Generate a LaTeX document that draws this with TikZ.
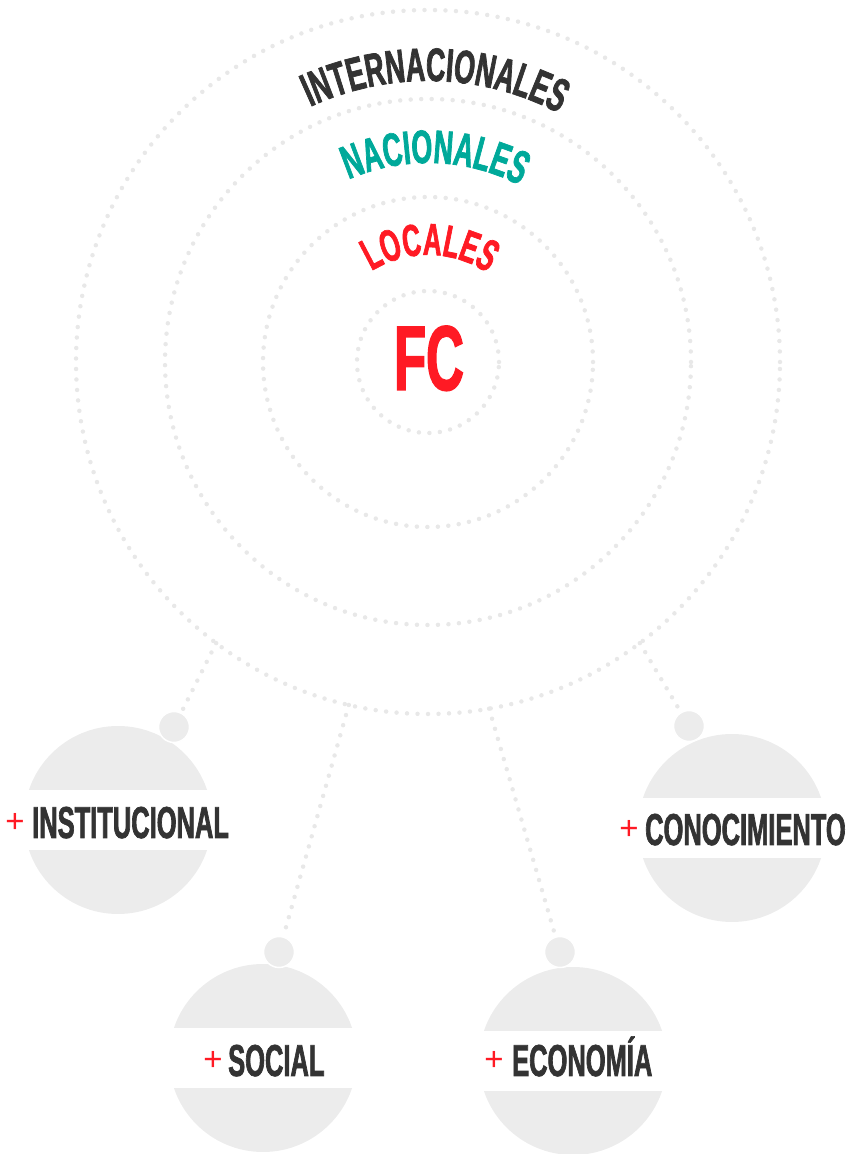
\documentclass[tikz,border=0pt]{standalone}
\usepackage{fontspec}
\usetikzlibrary{decorations.text}
\newfontfamily\bebas[FakeStretch=0.57,FakeBold=1.5,UprightFont={* Bold}]{Liberation Sans}
\newfontfamily\plusfont{Liberation Sans}
\definecolor{ink}{HTML}{333333}
\definecolor{dotgray}{HTML}{E8E8E8}
\definecolor{ballgray}{HTML}{ECECEC}
\definecolor{fcred}{HTML}{FF1A24}
\definecolor{teal}{HTML}{00A99A}
\tikzset{
  ring/.style={circle, draw=dotgray, line width=4.5pt, dash pattern=on 0pt off 10.5pt, line cap=round, inner sep=0pt, outer sep=0pt, minimum size=#1},
  link/.style={draw=dotgray, line width=4.5pt, dash pattern=on 0pt off 10.5pt, line cap=round, shorten >=4pt},
  ball/.style={circle, fill=ballgray, inner sep=0pt, minimum size=188pt},
  knob/.style={circle, fill=ballgray, draw=white, line width=1.5pt, inner sep=0pt, minimum size=31pt},
  band/.style={rectangle, fill=white, inner sep=0pt, minimum width=192pt, minimum height=60pt},
  lab/.style={anchor=base west, inner sep=0pt, text=ink, font=\bebas\fontsize{44.7}{50}\selectfont},
  plus/.style={inner sep=0pt, text=fcred, font=\plusfont\fontsize{33}{36}\selectfont},
}
\begin{document}
\begin{tikzpicture}[x=1pt,y=1pt]
\path[use as bounding box] (0,0) rectangle (849,1154);
\coordinate (c) at (428,792);
% concentric rings
\node[ring=704pt] (outer) at (c) {};
\node[ring=526pt] (nac) at (c) {};
\node[ring=330pt] (loc) at (c) {};
\node[ring=142pt] (core) at (c) {};
% arc labels
\path[decorate, decoration={text along path, text align=center, text color=ink,
  text={|\bebas\fontsize{47}{52}\selectfont|INTERNACIONALES}}]
  ([shift={(148.5:281)}]c) arc[start angle=148.5, end angle=28.5, radius=281];
\path[decorate, decoration={text along path, text align=center, text color=teal,
  text={|\bebas\fontsize{47}{52}\selectfont|NACIONALES}}]
  ([shift={(138:199)}]c) arc[start angle=138, end angle=38, radius=199];
\path[decorate, decoration={text along path, text align=center, text color=fcred,
  text={|\bebas\fontsize{45}{50}\selectfont|LOCALES}}]
  ([shift={(129:107)}]c) arc[start angle=129, end angle=49, radius=107];
\node[anchor=base, inner sep=0pt, text=fcred, font=\bebas\fontsize{92}{96}\selectfont] (fc) at (429,764) {FC};
% balls
\node[ball] (bi) at (118,334) {};
\node[ball] (bc) at (732,326) {};
\node[ball] (bs) at (263,96) {};
\node[ball] (be) at (573,93) {};
\node[band] (wi) at (bi) {};
\node[band] (wc) at (bc) {};
\node[band] (ws) at (bs) {};
\node[band] (we) at (be) {};
\node[knob] (ki) at (174,427) {};
\node[knob] (kc) at (689,428) {};
\node[knob] (ks) at (279,202) {};
\node[knob] (ke) at (560,202) {};
% connectors
\draw[link] (outer.233) -- (ki);
\draw[link] (outer.257.5) -- (ks);
\draw[link] (outer.280) -- (ke);
\draw[link] (outer.307) -- (kc);
% labels
\node[plus] (pi) at (15,331) {+};
\node[lab] (ti) at (32,316) {INSTITUCIONAL};
\node[plus] (pc) at (629,324) {+};
\node[lab] (tc) at (645,309) {CONOCIMIENTO};
\node[plus] (ps) at (213,93) {+};
\node[lab] (ts) at (228,78) {SOCIAL};
\node[plus] (pe) at (494,93) {+};
\node[lab] (te) at (512,78) {ECONOMÍA};
\end{tikzpicture}
\end{document}
